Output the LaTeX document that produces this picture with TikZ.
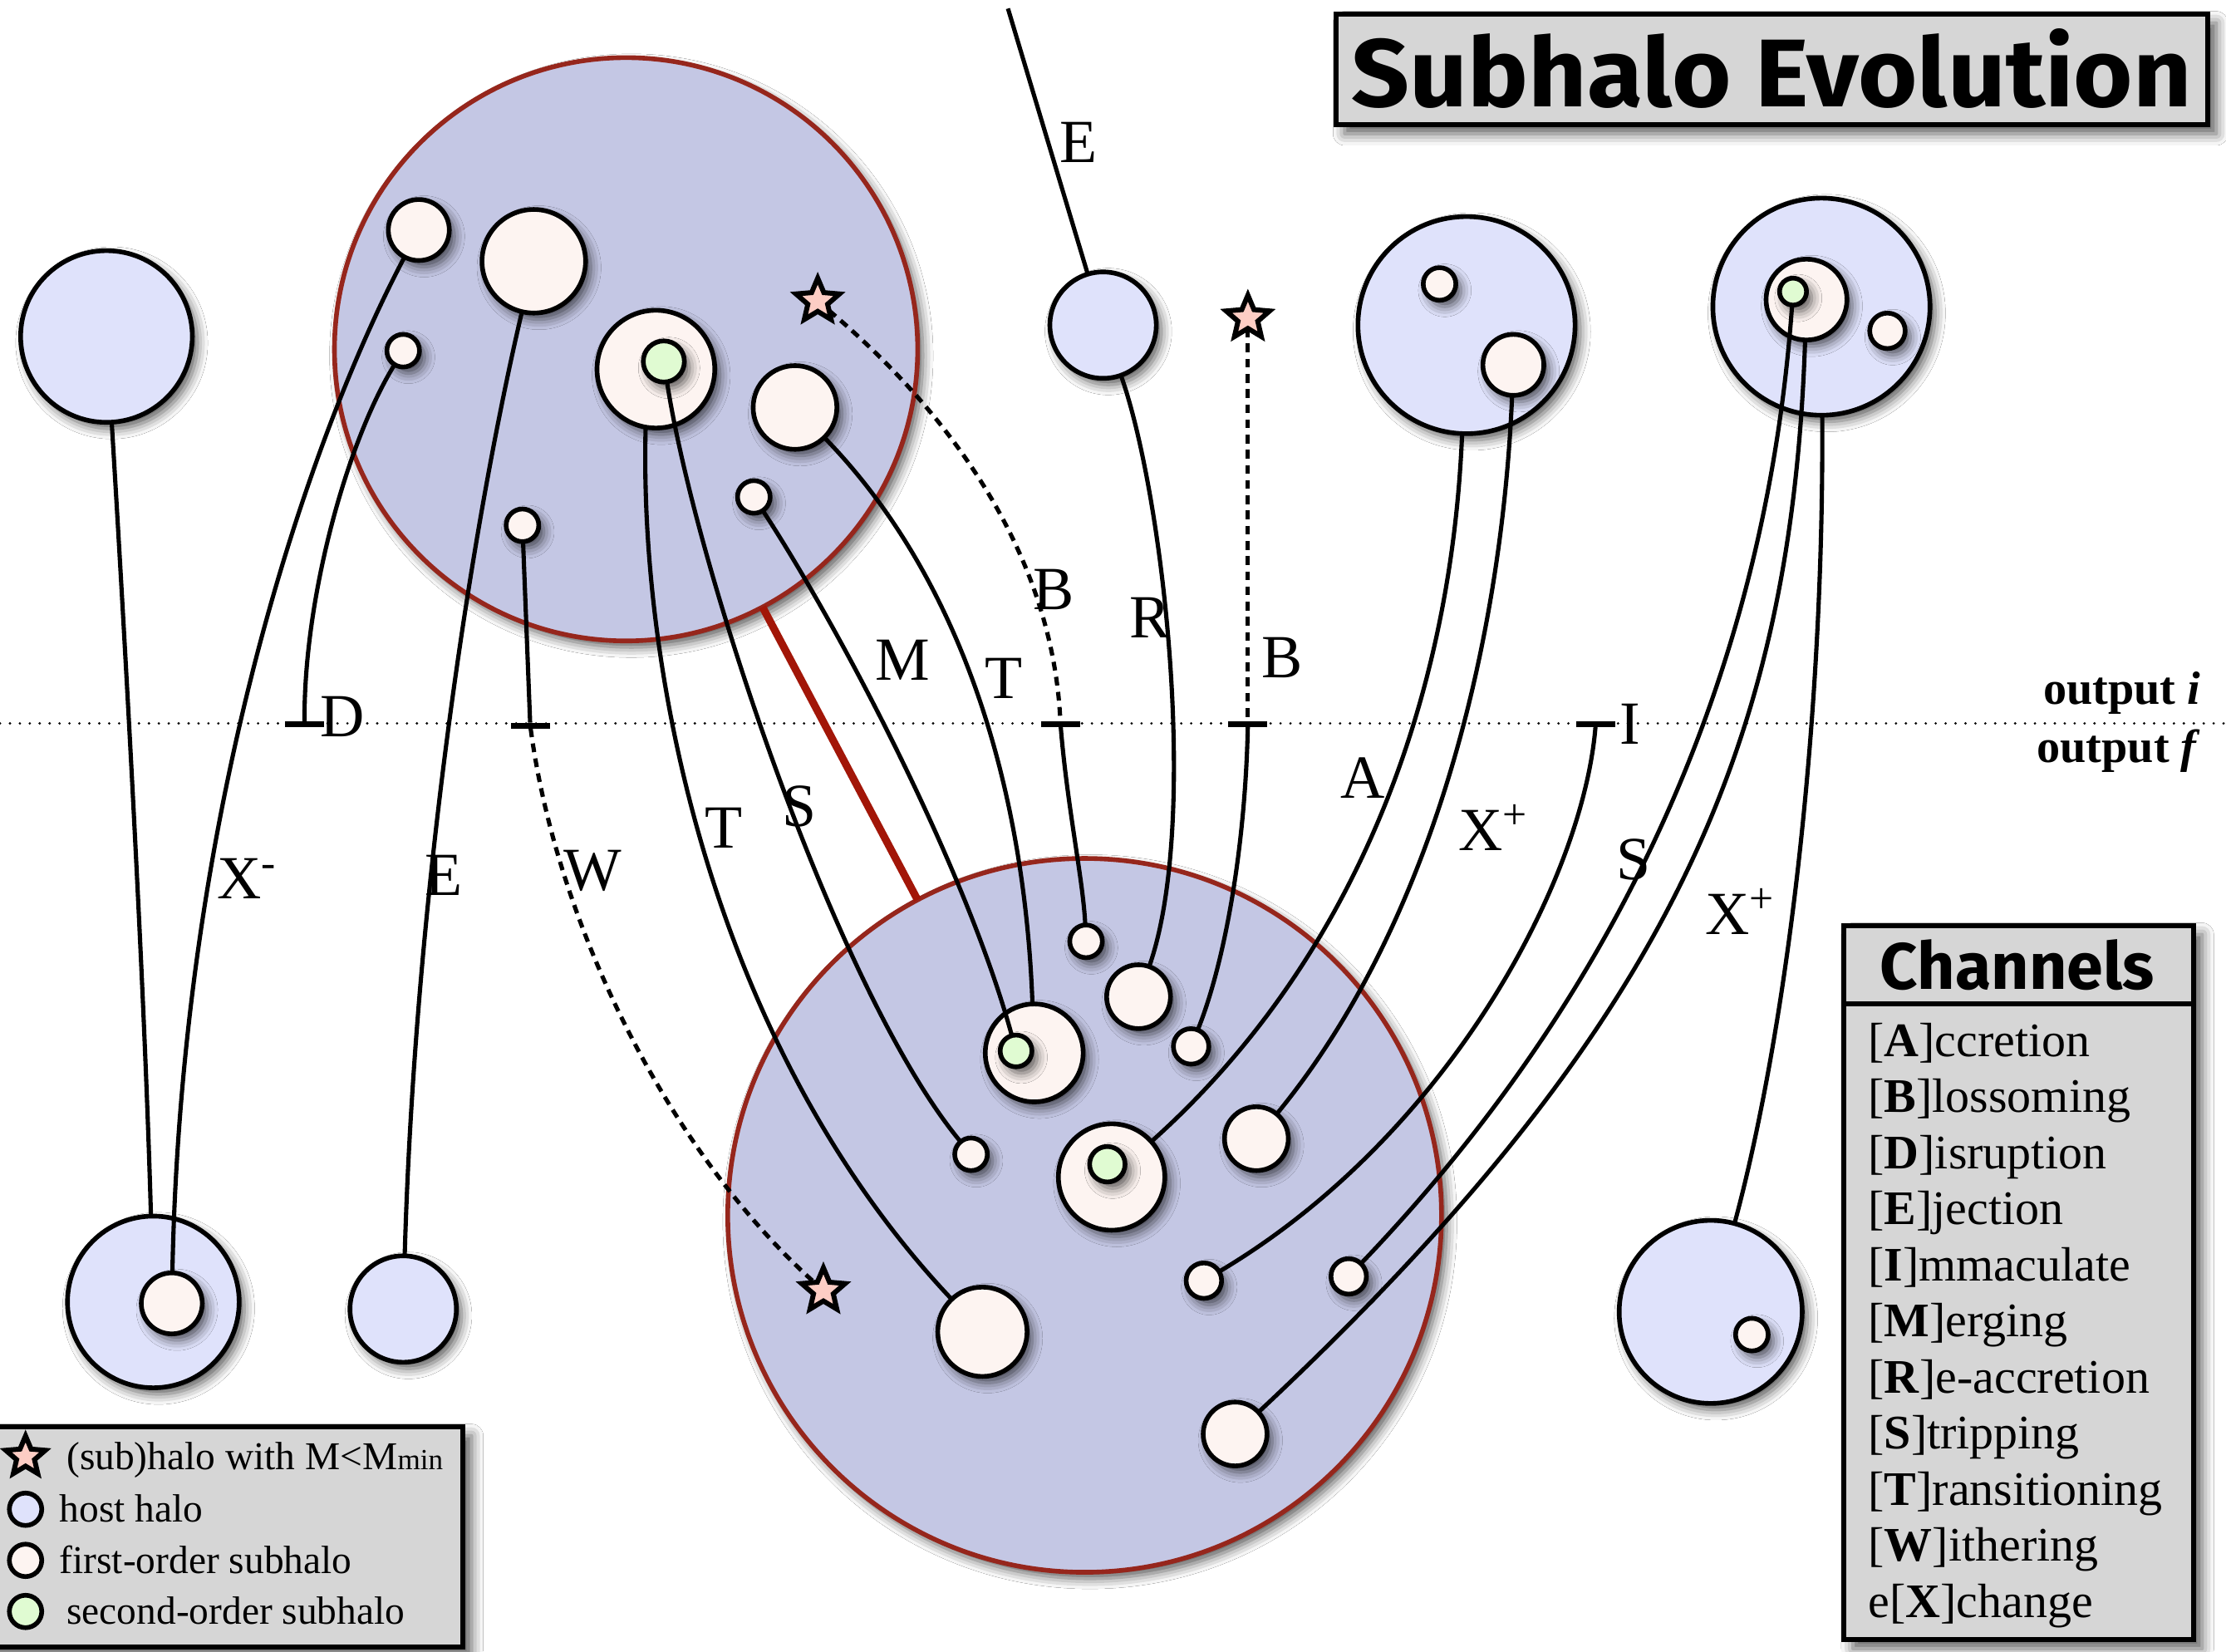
\documentclass[tikz,border=0pt]{standalone}
\usepackage{fontspec}
\setmainfont{Liberation Serif}
\newfontfamily\headfont{Fira Sans}
\usetikzlibrary{shapes.geometric,shadows.blur}

\definecolor{hostfill}{RGB}{223,226,251}
\definecolor{bigfill}{RGB}{196,199,228}
\definecolor{bigedge}{RGB}{150,38,28}
\definecolor{subfill}{RGB}{253,244,241}
\definecolor{subtwofill}{RGB}{224,251,210}
\definecolor{starfill}{RGB}{253,205,196}
\definecolor{boxfill}{RGB}{214,214,214}
\definecolor{linkred}{RGB}{162,22,8}

\newcommand\lblfont{\fontsize{21}{25}\selectfont}
\newcommand\chfont{\fontsize{16.5}{20}\selectfont}
\newcommand\lgfont{\fontsize{13.5}{16}\selectfont}
\newcommand\outfont{\fontsize{16}{19}\selectfont\bfseries}

\tikzset{
  every node/.style={inner sep=0pt, outer sep=0pt},
  softshadow/.style={blur shadow={shadow xshift=1.8pt, shadow yshift=-2.2pt,
      shadow blur radius=3.5pt, shadow opacity=65}},
  boxshadow/.style={blur shadow={shadow xshift=3pt, shadow yshift=-3pt,
      shadow blur radius=4pt, shadow opacity=65}},
  rad/.style={minimum size={(#1-1.5)*0.03417cm}},
  halo/.style={circle, draw=black, line width=1.6pt, fill=hostfill, softshadow},
  subone/.style={halo, fill=subfill},
  subtwo/.style={halo, fill=subtwofill},
  bighost/.style={circle, draw=bigedge, line width=1.6pt, fill=bigfill, softshadow},
  legcirc/.style={circle, draw=black, line width=1.6pt, minimum size=0.39cm},
  starhalo/.style={star, star points=5, star point ratio=2.2, draw=black,
      line width=1.7pt, fill=starfill, minimum size=0.55cm},
  conn/.style={line width=1.45pt},
  dashconn/.style={line width=1.45pt, dash pattern=on 3pt off 2.2pt},
  termbar/.style={rectangle, fill=black, minimum width=0.47cm, minimum height=0.07cm},
  lbl/.style={font=\lblfont},
  chtext/.style={font=\chfont, anchor=base west},
  lgtext/.style={font=\lgfont, anchor=base west},
}

\begin{document}
\begin{tikzpicture}[x=0.017085cm, y=-0.017085cm]

\path[use as bounding box, fill=white] (0,0) rectangle (1568,1163);

% separator between the two outputs
\draw[line width=0.9pt, dash pattern=on 0pt off 3.4pt, line cap=round] (0,509.5) -- (1568,509.5);

% ---------- host haloes ----------
\node[halo, rad=62] (hL1) at (75,237) {};
\node[halo, rad=62] (hL2) at (108,917) {};
\node[halo, rad=39] (hL3) at (284,922) {};
\node[halo, rad=39] (hE) at (777,229) {};
\node[halo, rad=78] (hR1) at (1033,229) {};
\node[halo, rad=78] (hR2) at (1283,216) {};
\node[halo, rad=66] (hR3) at (1205,924) {};
\node[bighost, rad=207] (BH1) at (441,246) {};
\node[bighost, rad=253] (BH2) at (764,856) {};

% ---------- subhaloes of the small hosts ----------
\node[subone, rad=23] (sL2) at (121,918) {};
\node[subone, rad=13] (sR1a) at (1014,200) {};
\node[subone, rad=23] (sR1b) at (1066,257) {};
\node[subone, rad=30] (sR2a) at (1272.5,211) {};
\node[subtwo, rad=11] (gR2) at (1263,205.4) {};
\node[subone, rad=14] (sR2b) at (1329.5,233) {};
\node[subone, rad=13] (sR3) at (1234,940) {};

% ---------- subhaloes at output i ----------
\node[subone, rad=23] (a1) at (295,162) {};
\node[subone, rad=38] (a2) at (376,184) {};
\node[subone, rad=13] (a3) at (284,247) {};
\node[subone, rad=43] (a4) at (462,260) {};
\node[subtwo, rad=16] (g4) at (467.6,254.6) {};
\node[subone, rad=31] (a5) at (560,287) {};
\node[subone, rad=13] (a6) at (531,350) {};
\node[subone, rad=13] (a7) at (368,370) {};

% ---------- subhaloes at output f ----------
\node[subone, rad=13] (b1) at (765,663) {};
\node[subone, rad=24] (b2) at (802,702) {};
\node[subone, rad=14] (b3) at (839,737) {};
\node[subone, rad=36] (b4) at (728.5,741.6) {};
\node[subtwo, rad=12.7] (g5) at (715.7,740.2) {};
\node[subone, rad=13] (b5) at (684,813) {};
\node[subone, rad=24] (b6) at (885,802) {};
\node[subone, rad=39] (b7) at (783,829) {};
\node[subtwo, rad=14] (g6) at (780,820) {};
\node[subone, rad=14] (b8) at (848,902) {};
\node[subone, rad=14] (b9) at (950,899) {};
\node[subone, rad=33] (b10) at (692,938) {};
\node[subone, rad=24] (b11) at (870,1010) {};

% ---------- objects below the mass limit ----------
\node[starhalo] (st1) at (576,212) {};
\node[starhalo] (st2) at (580,909) {};
\node[starhalo] (st3) at (879,224) {};

% ---------- end markers on the output line ----------
\node[termbar] (bD) at (214.5,510) {};
\node[termbar] (bW) at (373.5,511) {};
\node[termbar] (bB1) at (747,510) {};
\node[termbar] (bB2) at (879,510) {};
\node[termbar] (bI) at (1124,510) {};
\coordinate (eTop) at (710,6);

% ---------- host to host link ----------
\draw[line width=2.6pt, linkred] (BH1) -- (BH2);

% ---------- evolution channels ----------
\draw[conn] (hL1) .. controls (88,450) and (102,700) .. (hL2);
\draw[conn] (a1) .. controls (222,300) and (128,560) .. (sL2);
\draw[conn] (a3) .. controls (245,310) and (214,420) .. (bD);
\draw[conn] (a2) .. controls (330,380) and (292,640) .. (hL3);
\draw[conn] (a7) -- (bW);
\draw[dashconn] (bW) .. controls (392,650) and (470,810) .. (st2);
\draw[conn] (a4.-100) .. controls (450,480) and (505,740) .. (b10);
\draw[conn] (g4) .. controls (490,400) and (590,700) .. (b5);
\draw[conn] (a6) .. controls (590,440) and (680,610) .. (g5);
\draw[conn] (a5) .. controls (680,410) and (722,560) .. (b4);
\draw[dashconn] (st1) .. controls (680,300) and (742,400) .. (bB1);
\draw[conn] (bB1) .. controls (752,570) and (763,620) .. (b1);
\draw[conn] (eTop) -- (hE);
\draw[conn] (hE) .. controls (820,350) and (845,580) .. (b2);
\draw[dashconn] (st3) -- (bB2);
\draw[conn] (bB2) .. controls (877,600) and (862,680) .. (b3);
\draw[conn] (hR1) .. controls (1022,500) and (950,680) .. (b7);
\draw[conn] (sR1b) .. controls (1058,450) and (1010,650) .. (b6);
\draw[conn] (bI) .. controls (1115,620) and (1020,800) .. (b8);
\draw[conn] (gR2) .. controls (1245,460) and (1150,690) .. (b9);
\draw[conn] (sR2a) .. controls (1262,520) and (1180,720) .. (b11);
\draw[conn] (hR2) .. controls (1285,500) and (1260,720) .. (hR3);

% ---------- channel labels ----------
\node[lbl] (lE1) at (760,100) {E};
\node[lbl] (lXm) at (174,619) {X\textsuperscript{-}};
\node[lbl] (lE2) at (312.5,616.5) {E};
\node[lbl] (lD) at (241,505) {D};
\node[lbl] (lW) at (417.5,613.5) {W};
\node[lbl] (lT1) at (510,583) {T};
\node[lbl] (lS1) at (563,568) {S};
\node[lbl] (lM) at (636,465) {M};
\node[lbl] (lT2) at (707,478) {T};
\node[lbl] (lB1) at (742,415) {B};
\node[lbl] (lR) at (810,435) {R};
\node[lbl] (lB2) at (903,463) {B};
\node[lbl] (lA) at (960,548) {A};
\node[lbl] (lXp1) at (1052,583) {X\textsuperscript{+}};
\node[lbl] (lI) at (1148,510) {I};
\node[lbl] (lS2) at (1150.5,605.5) {S};
\node[lbl] (lXp2) at (1226,642) {X\textsuperscript{+}};

% ---------- output names ----------
\node[font=\outfont, anchor=base east] (outi) at (1550,496) {output \textit{i}};
\node[font=\outfont, anchor=base east] (outf) at (1550,537) {output \textit{f}};

% ---------- title ----------
\draw[fill=boxfill, line width=1.7pt, boxshadow] (941,10) rectangle (1555,88);
\node[anchor=base] (title) at (1248,75)
  {\resizebox{10.11cm}{0.94cm}{\headfont\bfseries Subhalo Evolution}};

% ---------- channel key ----------
\draw[fill=boxfill, line width=1.7pt, boxshadow] (1299,652) rectangle (1545,1155);
\draw[line width=1.7pt] (1299,707) -- (1545,707);
\node[anchor=base] (chead) at (1421,697)
  {\resizebox{3.30cm}{!}{\headfont\bfseries Channels}};
\foreach \t [count=\i] in {{[\textbf{A}]ccretion},{[\textbf{B}]lossoming},
    {[\textbf{D}]isruption},{[\textbf{E}]jection},{[\textbf{I}]mmaculate},
    {[\textbf{M}]erging},{[\textbf{R}]e-accretion},{[\textbf{S}]tripping},
    {[\textbf{T}]ransitioning},{[\textbf{W}]ithering},{e[\textbf{X}]change}}
  \node[chtext] (ch\i) at (1316,{744+39.5*(\i-1)}) {\t};

% ---------- symbol key ----------
\draw[fill=boxfill, line width=1.7pt, boxshadow] (-10,1005) rectangle (326,1160);
\node[starhalo, minimum size=0.5cm] (kstar) at (18,1026) {};
\node[legcirc, fill=hostfill] (khost) at (18,1063) {};
\node[legcirc, fill=subfill] (kone) at (18,1099) {};
\node[legcirc, fill=subtwofill] (ktwo) at (18,1135) {};
\node[lgtext] (kt1) at (47,1035) {(sub)halo with M<M{\fontsize{10}{12}\selectfont min}};
\node[lgtext] (kt2) at (42,1072) {host halo};
\node[lgtext] (kt3) at (42,1108) {first-order subhalo};
\node[lgtext] (kt4) at (47,1144) {second-order subhalo};

\end{tikzpicture}
\end{document}
